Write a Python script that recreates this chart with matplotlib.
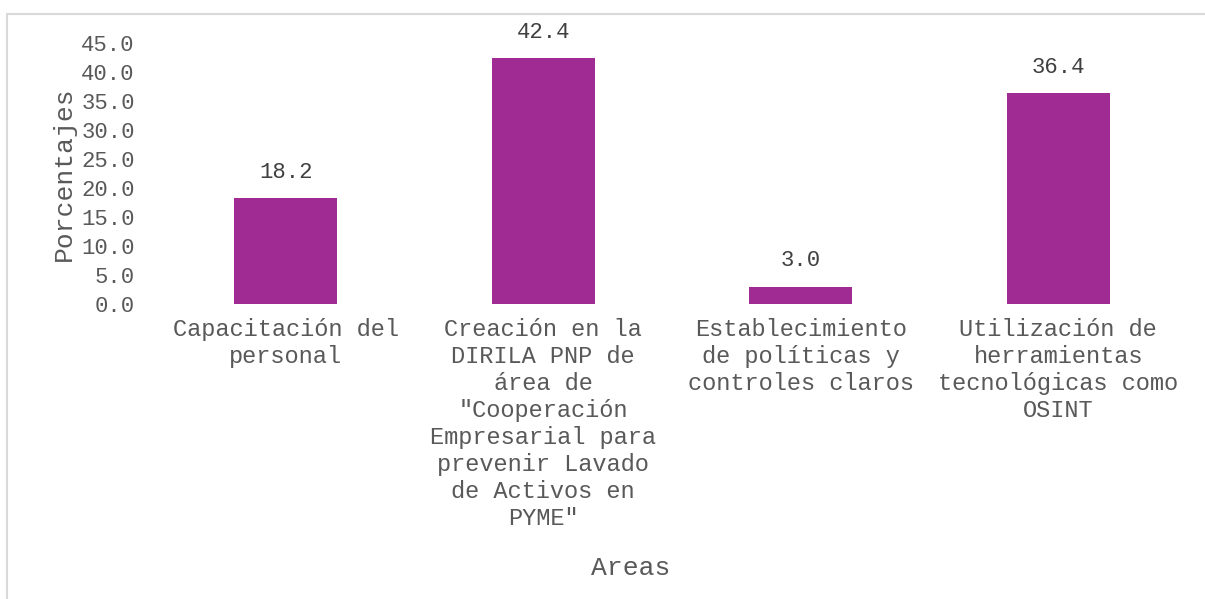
import matplotlib.pyplot as plt
from matplotlib.patches import Rectangle

categories = [
    "Capacitación del\npersonal",
    "Creación en la\nDIRILA PNP de\nárea de\n\"Cooperación\nEmpresarial para\nprevenir Lavado\nde Activos en\nPYME\"",
    "Establecimiento\nde políticas y\ncontroles claros",
    "Utilización de\nherramientas\ntecnológicas como\nOSINT",
]
values = [18.2, 42.4, 3.0, 36.4]
yticks = [0, 5, 10, 15, 20, 25, 30, 35, 40, 45]

plt.rcParams['font.family'] = ['Liberation Mono', 'DejaVu Sans Mono']

fig = plt.figure(figsize=(12.05, 5.99), dpi=100)
ax = fig.add_axes([157 / 1205, 1 - 304 / 599, 1030 / 1205, 261 / 599])

x = range(len(values))
bars = ax.bar(x, values, width=0.4, color='#A02B93')

for i, v in enumerate(values):
    ax.annotate(f"{v:.1f}", (i, v), xytext=(0, 11), textcoords='offset points',
                ha='center', va='bottom', fontsize=16, color='#404040')

ax.set_xlim(-0.5, len(values) - 0.5)
ax.set_ylim(0, 45)
ax.set_yticks(yticks)
ax.set_yticklabels([f"{t:.1f}" for t in yticks])
ax.set_xticks(list(x))
ax.set_xticklabels(categories, linespacing=1.22)
ax.tick_params(axis='y', length=0, pad=16, labelsize=16, labelcolor='#595959')
ax.tick_params(axis='x', length=0, pad=10, labelsize=17, labelcolor='#595959')

for s in ax.spines.values():
    s.set_visible(False)

ax.set_ylabel("Porcentajes", fontsize=19, color='#595959', labelpad=4)
ax.set_xlabel("Areas", fontsize=19, color='#595959')
ax.xaxis.set_label_coords(0.46, -0.965)

# outer chart border (cropped at right and bottom)
fig.patches.append(Rectangle((7 / 1205, -0.1), 1.2, 1 - 14 / 599 + 0.1,
                             transform=fig.transFigure, fill=False,
                             edgecolor='#d9d9d9', linewidth=1.5))

fig.savefig("out.png", dpi=100)
